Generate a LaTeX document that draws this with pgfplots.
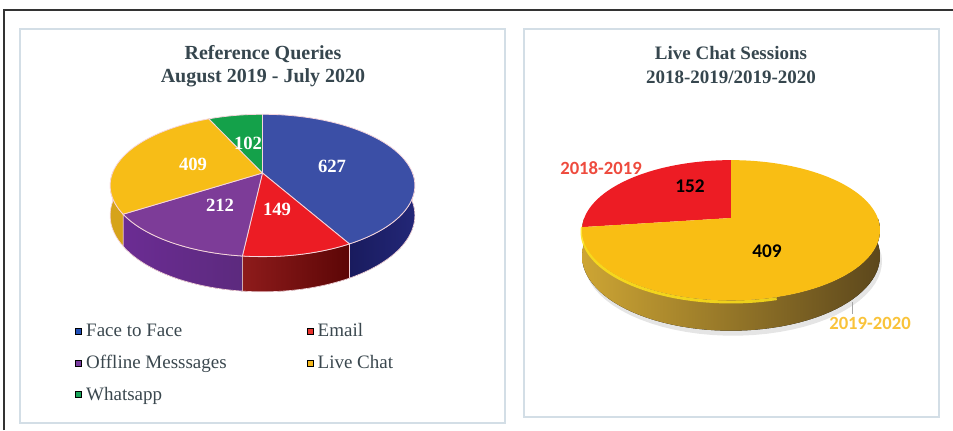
\documentclass[border=0pt]{standalone}
\usepackage{pgfplots}
\pgfplotsset{compat=1.18}
\usepackage{pgfplotstable}
\usepgfplotslibrary{fillbetween}
\usepackage{fontspec}
\setmainfont{Liberation Serif}
\newfontfamily\calib{Carlito}

\definecolor{cBlue}{HTML}{3B4FA6}
\definecolor{cBlueS}{HTML}{232777}
\definecolor{cBlueS2}{HTML}{191B5E}
\definecolor{cRed}{HTML}{EC1C24}
\definecolor{cRedS}{HTML}{8E1B1B}
\definecolor{cRedS2}{HTML}{5C0606}
\definecolor{cPur}{HTML}{7D3C98}
\definecolor{cPurS}{HTML}{6B2C93}
\definecolor{cPurS2}{HTML}{5C2A7E}
\definecolor{cYel}{HTML}{F7BD17}
\definecolor{cYelS}{HTML}{D6A31A}
\definecolor{cGrn}{HTML}{14A14A}
\definecolor{bord}{HTML}{F6D6DC}
\definecolor{titlec}{HTML}{36464E}
\definecolor{legc}{HTML}{3A474E}
\definecolor{panelc}{HTML}{D3DEE6}
\definecolor{mBlue}{HTML}{2150B8}
\definecolor{mRed}{HTML}{E8322C}
\definecolor{mPur}{HTML}{7A3DA0}
\definecolor{mYel}{HTML}{F4B81C}
\definecolor{mGrn}{HTML}{19A55A}
\definecolor{rRed}{HTML}{ED1C24}
\definecolor{rYel}{HTML}{F9BE14}
\definecolor{rSideL}{HTML}{CDA534}
\definecolor{rSideR}{HTML}{5C471C}
\definecolor{rRim}{HTML}{FFE21A}
\definecolor{lblRed}{HTML}{EE4B3E}
\definecolor{lblYel}{HTML}{F9C33A}

% Reference Queries, August 2019 - July 2020
\pgfplotstableread{
value
627
149
212
409
102
}\refq
% Live Chat Sessions 2018-2019 / 2019-2020
\pgfplotstableread{
value
152
409
}\chat

\pgfplotstablegetelem{0}{value}\of\refq\edef\vA{\pgfplotsretval}
\pgfplotstablegetelem{1}{value}\of\refq\edef\vB{\pgfplotsretval}
\pgfplotstablegetelem{2}{value}\of\refq\edef\vC{\pgfplotsretval}
\pgfplotstablegetelem{3}{value}\of\refq\edef\vD{\pgfplotsretval}
\pgfplotstablegetelem{4}{value}\of\refq\edef\vE{\pgfplotsretval}
\pgfmathsetmacro\T{\vA+\vB+\vC+\vD+\vE}
\pgfmathsetmacro\aA{90}
\pgfmathsetmacro\aB{\aA-360*(\vA/\T)}
\pgfmathsetmacro\aC{\aB-360*(\vB/\T)}
\pgfmathsetmacro\aD{\aC-360*(\vC/\T)}
\pgfmathsetmacro\aE{\aD-360*(\vD/\T)}
\pgfmathsetmacro\aF{\aE-360*(\vE/\T)}

\pgfplotstablegetelem{0}{value}\of\chat\edef\wA{\pgfplotsretval}
\pgfplotstablegetelem{1}{value}\of\chat\edef\wB{\pgfplotsretval}
\pgfmathsetmacro\S{\wA+\wB}
\pgfmathsetmacro\bA{90}
\pgfmathsetmacro\bB{\bA+360*(\wA/\S)}
\pgfmathsetmacro\bC{\bB+360*(\wB/\S)}

\begin{document}
\begin{tikzpicture}[
  declare function={
    XL(\t)=262.5+150*cos(\t)/(1+0.175*sin(\t));
    YL(\t)=173-69*sin(\t)/(1+0.175*sin(\t));
    YLb(\t)=173+(29-69*sin(\t))/(1+0.175*sin(\t));
    XR(\t)=731+146.7*cos(\t)/(1+0.175*sin(\t));
    YR(\t)=218-68*sin(\t)/(1+0.175*sin(\t));
    YRb(\t)=218+(25-68*sin(\t))/(1+0.175*sin(\t));
  }]
\begin{axis}[
  scale only axis, width=714.75pt, height=322.5pt,
  xmin=0, xmax=953, ymin=0, ymax=430, y dir=reverse,
  hide axis, clip=false,
  legend columns=2,
  legend cell align=left,
  legend style={at={(axis cs:71,318)}, anchor=north west, draw=none, fill=none,
    font=\fontsize{14.25}{16}\selectfont, text=legc, row sep=8.3pt,
    /tikz/every even column/.append style={column sep=58pt}},
  sqleg/.style={legend image code/.code={\fill[##1] (0pt,-2.3pt) rectangle (4.6pt,2.3pt); \path (5.8pt,0pt);}},
]
\coordinate (BL) at (axis cs:0,430);
\coordinate (TR) at (axis cs:953,0);

% frames
\draw[black!80, line width=1.1pt] (axis cs:4,430) -- (axis cs:4,10) -- (axis cs:953,10);
\draw[panelc, line width=1.1pt] (axis cs:20,29) rectangle (axis cs:505,423);
\draw[panelc, line width=1.1pt] (axis cs:524,29) rectangle (axis cs:939,417);

% ---------- left pie: sides ----------
\addplot[name path=bT, draw=none, domain=\aB:0, samples=40, forget plot] ({XL(x)},{YL(x)});
\addplot[name path=bB, draw=none, domain=\aB:0, samples=40, forget plot] ({XL(x)},{YLb(x)});
\addplot[left color=cBlueS2, right color=cBlueS, draw=bord, line width=0.5pt, forget plot] fill between[of=bT and bB];

\addplot[name path=rT, draw=none, domain=\aC:\aB, samples=30, forget plot] ({XL(x)},{YL(x)});
\addplot[name path=rB, draw=none, domain=\aC:\aB, samples=30, forget plot] ({XL(x)},{YLb(x)});
\addplot[left color=cRedS, right color=cRedS2, draw=bord, line width=0.5pt, forget plot] fill between[of=rT and rB];

\addplot[name path=pT, draw=none, domain=\aD:\aC, samples=30, forget plot] ({XL(x)},{YL(x)});
\addplot[name path=pB, draw=none, domain=\aD:\aC, samples=30, forget plot] ({XL(x)},{YLb(x)});
\addplot[left color=cPurS, right color=cPurS2, draw=bord, line width=0.5pt, forget plot] fill between[of=pT and pB];

\addplot[name path=yT, draw=none, domain=-180:\aD, samples=20, forget plot] ({XL(x)},{YL(x)});
\addplot[name path=yB, draw=none, domain=-180:\aD, samples=20, forget plot] ({XL(x)},{YLb(x)});
\addplot[fill=cYelS, draw=bord, line width=0.5pt, forget plot] fill between[of=yT and yB];

% ---------- left pie: tops ----------
\addplot[fill=cBlue, draw=bord, line width=0.6pt, domain=\aB:\aA, samples=60, forget plot] ({XL(x)},{YL(x)}) -- (axis cs:262.5,173) -- cycle;
\addplot[fill=cRed, draw=bord, line width=0.6pt, domain=\aC:\aB, samples=30, forget plot] ({XL(x)},{YL(x)}) -- (axis cs:262.5,173) -- cycle;
\addplot[fill=cPur, draw=bord, line width=0.6pt, domain=\aD:\aC, samples=30, forget plot] ({XL(x)},{YL(x)}) -- (axis cs:262.5,173) -- cycle;
\addplot[fill=cYel, draw=bord, line width=0.6pt, domain=\aE:\aD, samples=50, forget plot] ({XL(x)},{YL(x)}) -- (axis cs:262.5,173) -- cycle;
\addplot[fill=cGrn, draw=bord, line width=0.6pt, domain=\aF:\aE, samples=20, forget plot] ({XL(x)},{YL(x)}) -- (axis cs:262.5,173) -- cycle;

% data labels
\begin{scope}[every node/.style={font=\bfseries\fontsize{14}{16}\selectfont, text=white}]
\node at (axis cs:332,166) {627};
\node at (axis cs:277,209) {149};
\node at (axis cs:220,205) {212};
\node at (axis cs:193,164) {409};
\node at (axis cs:248,143) {102};
\end{scope}

% title left
\node[align=center, font=\bfseries\fontsize{15}{17.3}\selectfont, text=titlec] at (axis cs:263,66.5) {Reference Queries\\August 2019 - July 2020};

% ---------- right pie ----------
\addplot[name path=shT, draw=none, domain=185:355, samples=40, forget plot] ({XR(x)},{YRb(x)});
\addplot[name path=shB, draw=none, domain=185:355, samples=40, forget plot] ({XR(x)+2},{YRb(x)+5});
\addplot[fill=black!10, draw=none, forget plot] fill between[of=shT and shB];

\addplot[name path=sT, draw=none, domain=180:360, samples=60, forget plot] ({XR(x)},{YR(x)});
\addplot[name path=sB, draw=none, domain=180:360, samples=60, forget plot] ({XR(x)},{YRb(x)});
\addplot[left color=rSideL, right color=rSideR, draw=none, forget plot] fill between[of=sT and sB];
\addplot[draw=rRim, line width=2.2pt, opacity=0.85, domain=186:285, samples=40, forget plot] ({XR(x)},{YR(x)+1.6});

\addplot[fill=rRed, draw=none, domain=\bA:\bB, samples=50, forget plot] ({XR(x)},{YR(x)}) -- (axis cs:731,218) -- cycle;
\addplot[fill=rYel, draw=none, domain=\bB:\bC, samples=120, forget plot] ({XR(x)},{YR(x)}) -- (axis cs:731,218) -- cycle;

\node[font=\calib\bfseries\fontsize{14.5}{16}\selectfont, text=black] at (axis cs:690,186) {152};
\node[font=\calib\bfseries\fontsize{14.5}{16}\selectfont, text=black] at (axis cs:767,251) {409};
\node[font=\calib\bfseries\fontsize{14}{16}\selectfont, text=lblRed] at (axis cs:601,168) {2018-2019};
\node[font=\calib\bfseries\fontsize{14}{16}\selectfont, text=lblYel] at (axis cs:870,323) {2019-2020};
\draw[gray!70, line width=0.6pt] (axis cs:852,302) -- (axis cs:852,314);

\node[align=center, font=\bfseries\fontsize{14.25}{18}\selectfont, text=titlec] at (axis cs:731,65) {Live Chat Sessions\\2018-2019/2019-2020};

% legend
\addlegendimage{sqleg, fill=mBlue}\addlegendentry{Face to Face}
\addlegendimage{sqleg, fill=mRed}\addlegendentry{Email}
\addlegendimage{sqleg, fill=mPur}\addlegendentry{Offline Messsages}
\addlegendimage{sqleg, fill=mYel}\addlegendentry{Live Chat}
\addlegendimage{sqleg, fill=mGrn}\addlegendentry{Whatsapp}
\end{axis}
\pgfresetboundingbox
\path (BL) rectangle (TR);
\end{tikzpicture}
\end{document}
